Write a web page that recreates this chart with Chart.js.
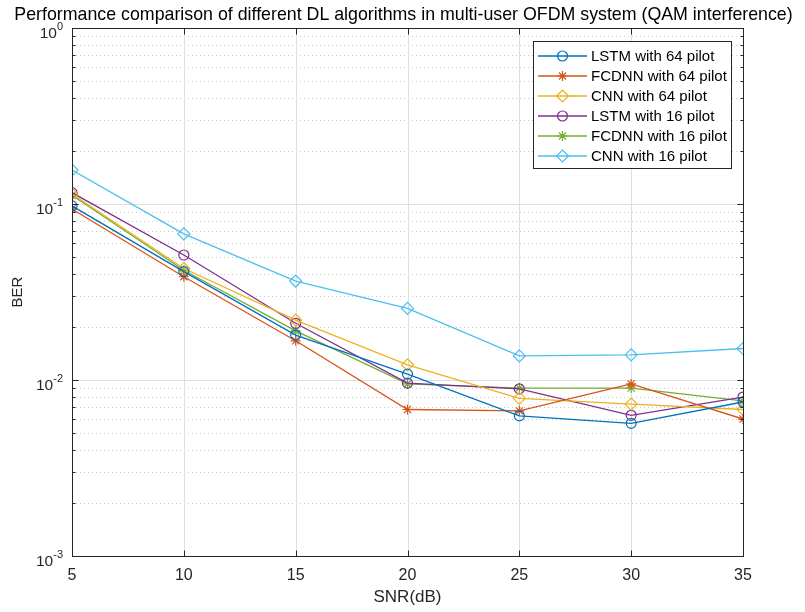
<!DOCTYPE html>
<html><head><meta charset="utf-8">
<script src="https://cdn.jsdelivr.net/npm/chart.js@4/dist/chart.umd.min.js"></script>
<style>html,body{margin:0;padding:0;background:#fff;}#wrap{width:805px;height:612px;}</style>
</head><body><div id="wrap"><canvas id="c" width="805" height="612"></canvas></div>
<script>
// ---- data ----
const snr = [5, 10, 15, 20, 25, 30, 35];
const lstm64  = [0.0975, 0.0413, 0.0180, 0.0108, 0.00626, 0.00567, 0.0075];
const fcdnn64 = [0.0937, 0.0386, 0.0167, 0.0068, 0.00668, 0.0095, 0.0060];
const cnn64   = [0.114, 0.0430, 0.0219, 0.0122, 0.00787, 0.0073, 0.0068];
const lstm16  = [0.116, 0.0513, 0.0210, 0.0096, 0.0089, 0.0063, 0.0080];
const fcdnn16 = [0.112, 0.0420, 0.0190, 0.0095, 0.0090, 0.0090, 0.0076];
const cnn16   = [0.156, 0.0676, 0.0365, 0.0255, 0.0137, 0.0139, 0.0151];
const seriesNames = ['LSTM with 64 pilot','FCDNN with 64 pilot','CNN with 64 pilot','LSTM with 16 pilot','FCDNN with 16 pilot','CNN with 16 pilot'];
const xTicks = [5, 10, 15, 20, 25, 30, 35];
const yTickExponents = [0, -1, -2, -3];
const titleText = 'Performance comparison of different DL algorithms in multi-user OFDM system (QAM interference)';
const xLabel = 'SNR(dB)';
const yLabel = 'BER';

const colors = ['#0072BD','#D95319','#EDB120','#7E2F8E','#77AC30','#4DBEEE'];
const styles = ['circle','star','rectRot','circle','star','rectRot'];
const radii  = [5, 5, 6, 5, 5, 6];
const values = [lstm64, fcdnn64, cnn64, lstm16, fcdnn16, cnn16];
const FONT = '"Liberation Sans", Arial, Helvetica, sans-serif';
const AX = '#262626';

const datasets = values.map((v, i) => ({
  label: seriesNames[i],
  data: snr.map((x, j) => ({x: x, y: v[j]})),
  borderColor: colors[i],
  backgroundColor: colors[i],
  borderWidth: 1.3,
  pointStyle: styles[i],
  pointRadius: radii[i],
  pointBorderColor: colors[i],
  pointBackgroundColor: 'rgba(0,0,0,0)',
  pointBorderWidth: 1.2,
  tension: 0,
  fill: false
}));

function drawMarker(ctx, style, x, y, r) {
  ctx.beginPath();
  if (style === 'circle') {
    ctx.arc(x, y, r, 0, Math.PI * 2);
  } else if (style === 'rectRot') {
    ctx.moveTo(x, y - r); ctx.lineTo(x + r, y); ctx.lineTo(x, y + r); ctx.lineTo(x - r, y); ctx.closePath();
  } else if (style === 'star') {
    for (let a = 0; a < 4; a++) {
      const ang = a * Math.PI / 4;
      ctx.moveTo(x - Math.cos(ang) * r, y - Math.sin(ang) * r);
      ctx.lineTo(x + Math.cos(ang) * r, y + Math.sin(ang) * r);
    }
  }
  ctx.stroke();
}

const matlabAxes = {
  id: 'matlabAxes',
  beforeDatasetsDraw(chart) {
    const ctx = chart.ctx, ca = chart.chartArea, xs = chart.scales.x, ys = chart.scales.y;
    ctx.save();
    ctx.strokeStyle = '#c9c9c9'; ctx.lineWidth = 1; ctx.setLineDash([1, 3]);
    for (let k = -3; k < 0; k++) {
      for (let m = 2; m <= 9; m++) {
        const py = Math.round(ys.getPixelForValue(m * Math.pow(10, k))) + 0.5;
        ctx.beginPath(); ctx.moveTo(ca.left, py); ctx.lineTo(ca.right, py); ctx.stroke();
      }
    }
    ctx.setLineDash([]);
    ctx.strokeStyle = '#dfdfdf';
    yTickExponents.forEach(e => {
      const py = Math.round(ys.getPixelForValue(Math.pow(10, e))) + 0.5;
      ctx.beginPath(); ctx.moveTo(ca.left, py); ctx.lineTo(ca.right, py); ctx.stroke();
    });
    xTicks.forEach(t => {
      const px = Math.round(xs.getPixelForValue(t)) + 0.5;
      ctx.beginPath(); ctx.moveTo(px, ca.top); ctx.lineTo(px, ca.bottom); ctx.stroke();
    });
    ctx.restore();
  },
  afterDatasetsDraw(chart) {
    const ctx = chart.ctx, ca = chart.chartArea, xs = chart.scales.x, ys = chart.scales.y;
    ctx.save();
    ctx.strokeStyle = AX; ctx.lineWidth = 1;
    const L = Math.round(ca.left) + 0.5, R = Math.round(ca.right) + 0.5, T = Math.round(ca.top) + 0.5, B = Math.round(ca.bottom) + 0.5;
    ctx.strokeRect(L, T, R - L, B - T);
    xTicks.forEach(t => {
      const px = Math.round(xs.getPixelForValue(t)) + 0.5;
      ctx.beginPath(); ctx.moveTo(px, B); ctx.lineTo(px, B - 6); ctx.moveTo(px, T); ctx.lineTo(px, T + 6); ctx.stroke();
    });
    for (let k = -3; k <= 0; k++) {
      for (let m = 1; m <= (k === 0 ? 1 : 9); m++) {
        const py = Math.round(ys.getPixelForValue(m * Math.pow(10, k))) + 0.5;
        const len = m === 1 ? 6 : 3;
        ctx.beginPath(); ctx.moveTo(L, py); ctx.lineTo(L + len, py); ctx.moveTo(R, py); ctx.lineTo(R - len, py); ctx.stroke();
      }
    }
    ctx.fillStyle = AX; ctx.textBaseline = 'alphabetic';
    yTickExponents.forEach(e => {
      const py = ys.getPixelForValue(Math.pow(10, e));
      const sup = String(e);
      ctx.font = '11px ' + FONT;
      const sw = ctx.measureText(sup).width;
      const endX = ca.left - 9;
      ctx.textAlign = 'left';
      ctx.fillText(sup, endX - sw, py + 2);
      ctx.font = '15.5px ' + FONT;
      ctx.textAlign = 'right';
      ctx.fillText('10', endX - sw, py + 10);
    });
    ctx.restore();
  },
  afterDraw(chart) {
    const ctx = chart.ctx;
    ctx.save();
    // title
    ctx.fillStyle = '#000'; ctx.font = '17.8px ' + FONT; ctx.textAlign = 'center'; ctx.textBaseline = 'middle';
    ctx.fillText(titleText, 403.5, 15);
    // legend
    const bx = 533.5, by = 41.5, bw = 198, bh = 127;
    ctx.fillStyle = '#fff'; ctx.fillRect(bx, by, bw, bh);
    ctx.strokeStyle = AX; ctx.lineWidth = 1; ctx.strokeRect(bx, by, bw, bh);
    ctx.font = '15px ' + FONT; ctx.textAlign = 'left'; ctx.textBaseline = 'middle';
    seriesNames.forEach((name, i) => {
      const y = 56 + i * 20;
      ctx.strokeStyle = colors[i]; ctx.lineWidth = 1.3;
      ctx.beginPath(); ctx.moveTo(538, y); ctx.lineTo(587, y); ctx.stroke();
      ctx.lineWidth = 1.2;
      drawMarker(ctx, styles[i], 562.5, y, radii[i]);
      ctx.fillStyle = '#000';
      ctx.fillText(name, 591, y + 1);
    });
    ctx.restore();
  }
};

new Chart(document.getElementById('c'), {
  type: 'line',
  data: { datasets: datasets },
  options: {
    responsive: false,
    animation: false,
    devicePixelRatio: 1,
    layout: { padding: { left: 0, right: 62, top: 28, bottom: 0 } },
    plugins: {
      legend: { display: false },
      tooltip: { enabled: false },
      title: { display: false }
    },
    scales: {
      x: {
        type: 'linear', min: 5, max: 35,
        afterBuildTicks: s => { s.ticks = xTicks.map(v => ({value: v})); },
        afterFit: s => { s.height = 56; },
        grid: { display: false, drawTicks: false },
        border: { display: false },
        ticks: { color: AX, font: { family: FONT, size: 16 }, padding: 10, maxRotation: 0 },
        title: { display: true, text: xLabel, color: AX, font: { family: FONT, size: 17 }, padding: { top: 0, bottom: 4 } }
      },
      y: {
        type: 'logarithmic', min: 0.001, max: 1,
        afterFit: s => { s.width = 72; },
        grid: { display: false, drawTicks: false },
        border: { display: false },
        ticks: { display: false },
        title: { display: true, text: yLabel, color: AX, font: { family: FONT, size: 15 }, padding: { top: 9, bottom: 0 } }
      }
    }
  },
  plugins: [matlabAxes]
});
</script>
</body></html>
